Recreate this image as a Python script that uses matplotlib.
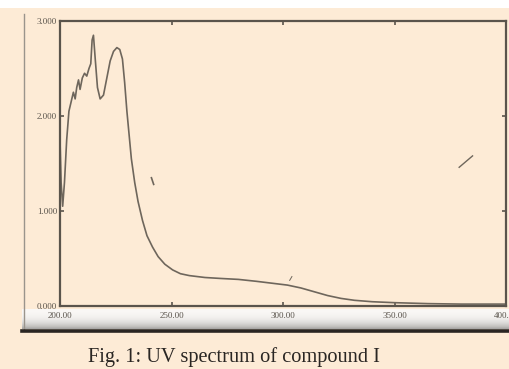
import numpy as np
import matplotlib.pyplot as plt
from matplotlib.lines import Line2D
from matplotlib.patches import Rectangle

# espectro UV (nm, absorbancia)
comprimento = [200.0, 200.5, 201.2, 202.0, 203.0, 204.0, 205.0, 206.0, 206.8, 207.5,
               208.3, 209.0, 210.0, 211.0, 212.0, 213.0, 213.8, 214.4, 215.0, 215.8,
               216.8, 218.0, 219.5, 221.0, 222.5, 224.0, 225.5, 226.8, 228.0, 229.0,
               230.0, 231.0, 232.0, 233.5, 235.0, 237.0, 239.0, 241.5, 244.0, 247.0,
               250.5, 254.0, 258.0, 265.0, 272.0, 280.0, 288.0, 295.0, 302.0, 308.0,
               314.0, 320.0, 326.0, 332.0, 340.0, 350.0, 365.0, 380.0, 400.0]
absorbancia = [1.75, 1.30, 1.05, 1.30, 1.75, 2.05, 2.15, 2.25, 2.18, 2.30,
               2.38, 2.28, 2.40, 2.45, 2.42, 2.50, 2.55, 2.80, 2.85, 2.60,
               2.30, 2.18, 2.22, 2.40, 2.58, 2.68, 2.72, 2.70, 2.60, 2.35,
               2.05, 1.80, 1.55, 1.30, 1.10, 0.90, 0.74, 0.62, 0.52, 0.44,
               0.38, 0.34, 0.32, 0.30, 0.29, 0.28, 0.26, 0.24, 0.22, 0.19,
               0.15, 0.11, 0.08, 0.06, 0.045, 0.035, 0.025, 0.02, 0.02]

x_ticks = [200, 250, 300, 350, 400]
x_labels = ['200.00', '250.00', '300.00', '350.00', '400.00']
y_ticks = [0, 1, 2, 3]
y_labels = ['0.000', '1.000', '2.000', '3.000']

bege = '#fdebd6'
cor_linha = '#6e665c'
cor_eixo = '#5a544c'

W, H = 510, 369
fig = plt.figure(figsize=(W / 100, H / 100), dpi=100)
fig.patch.set_facecolor(bege)

# fundo: faixa branca no topo, linha lateral, sombra e linha grossa de baixo
bg = fig.add_axes([0, 0, 1, 1])
bg.set_xlim(0, W)
bg.set_ylim(H, 0)
bg.axis('off')
bg.add_patch(Rectangle((0, 0), W, 8, color='white', lw=0))
grad = np.linspace(0, 1, 40).reshape(-1, 1) ** 2
bg.imshow(grad, extent=(22, W, 329, 309), cmap='Greys', vmin=-0.1, vmax=2.2,
          aspect='auto', alpha=0.9)
bg.add_line(Line2D([24, 24], [14, 330], color='#9a948c', lw=1.0))
bg.add_line(Line2D([22, W], [331, 331], color='#2a2623', lw=2.6))

# grafico principal
ax = fig.add_axes([60 / W, 1 - 306 / H, (506 - 60) / W, (306 - 21) / H])
ax.set_facecolor('none')
ax.plot(comprimento, absorbancia, color=cor_linha, lw=1.2)
ax.set_xlim(200, 400)
ax.set_ylim(0, 3)

for s in ax.spines.values():
    s.set_color(cor_eixo)
    s.set_linewidth(1.6)

ax.set_xticks(x_ticks)
ax.set_xticklabels(x_labels)
ax.set_yticks(y_ticks)
ax.set_yticklabels(y_labels)
ax.tick_params(direction='in', length=3, width=1.2, color=cor_eixo,
               labelsize=6.5, labelcolor='#5a544c', pad=2,
               top=True, right=True)
ax.tick_params(axis='x', pad=4)
for t in ax.get_xticklabels() + ax.get_yticklabels():
    t.set_family('Liberation Serif')

# marcas soltas do scan
ax.plot([241, 242], [1.35, 1.28], color=cor_linha, lw=1.2)
ax.plot([379, 385], [1.46, 1.58], color=cor_linha, lw=1.0)
ax.plot([303, 304], [0.27, 0.31], color=cor_linha, lw=0.7)

fig.text(234 / W, 1 - 362 / H, 'Fig. 1: UV spectrum of compound I',
         family='Liberation Serif', fontsize=14.7, color='#2a2623',
         ha='center', va='baseline')

fig.savefig('out.png', dpi=100, facecolor=fig.get_facecolor())
